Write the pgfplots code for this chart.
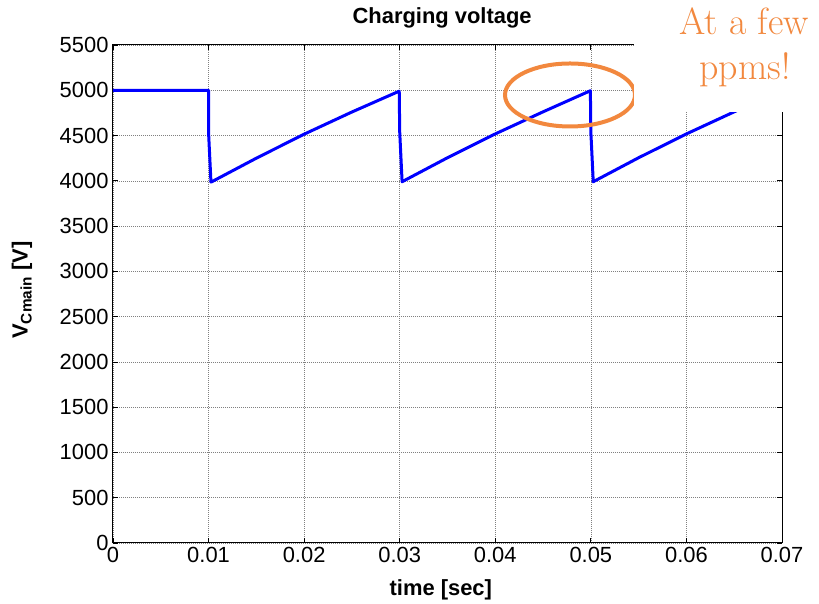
\documentclass[border=0pt]{standalone}
\usepackage{pgfplots}
\pgfplotsset{compat=1.18}
\usepackage{fontspec}
\newfontfamily\arial{Liberation Sans}
\definecolor{noteorange}{RGB}{242,136,62}
\definecolor{traceblue}{RGB}{0,0,255}

\begin{document}
\begin{tikzpicture}[x=1bp,y=1bp]
\begin{axis}[
  name=ax,
  width=669bp, height=498bp, scale only axis,
  xmin=0, xmax=0.07, ymin=0, ymax=5500,
  xtick={0,0.01,0.02,0.03,0.04,0.05,0.06,0.07},
  ytick={0,500,1000,1500,2000,2500,3000,3500,4000,4500,5000,5500},
  scaled x ticks=false,
  /pgf/number format/set thousands separator={},
  xticklabel style={/pgf/number format/fixed, /pgf/number format/precision=2, yshift=-1bp},
  yticklabel style={xshift=-1bp},
  /pgf/number format/assume math mode=true,
  tick label style={font=\arial\fontsize{22}{26}\selectfont},
  grid=major,
  major grid style={black!50, line width=0.6bp, dash pattern=on 0.8bp off 1.2bp},
  tick align=inside, xtick pos=both, ytick pos=both,
  major tick length=5bp,
  every tick/.style={black, line width=0.8bp},
  axis line style={black, line width=1bp},
  title={Charging voltage},
  title style={font=\arial\bfseries\fontsize{22}{26}\selectfont, at={(axis description cs:0.492,1)}, anchor=base, yshift=16bp},
  xlabel={time [sec]},
  xlabel style={font=\arial\bfseries\fontsize{22}{26}\selectfont, at={(axis description cs:0.49,-0.094)}, anchor=center},
  ylabel={V\textsubscript{Cmain} [V]},
  ylabel style={font=\arial\bfseries\fontsize{22}{26}\selectfont, at={(axis description cs:-0.136,0.508)}, anchor=center},
]
\addplot[traceblue, line width=3bp, line join=round] coordinates {
  (0,5000) (0.01,5000) (0.01,4530) (0.01025,3985)
  (0.015,4250) (0.02,4515) (0.025,4760) (0.02995,4990)
  (0.03,4540) (0.03025,3990)
  (0.035,4255) (0.04,4518) (0.045,4762) (0.04995,4995)
  (0.05,4540) (0.05025,3990)
  (0.055,4255) (0.06,4518) (0.065,4762) (0.07,5000)
};
\end{axis}
% highlight ring round the last peak
\draw[noteorange, line width=4bp] ([shift={(457bp,448bp)}]ax.south west) ellipse [x radius=65bp, y radius=31.5bp];
% note box on top of the corner of the plot
\fill[white] ([shift={(521bp,431bp)}]ax.south west) rectangle ([shift={(706bp,543bp)}]ax.south west);
\node[noteorange, anchor=base, font=\fontsize{38}{46}\selectfont, inner sep=0pt] at ([shift={(631bp,508bp)}]ax.south west) {At a few};
\node[noteorange, anchor=base, font=\fontsize{38}{46}\selectfont, inner sep=0pt] at ([shift={(632bp,463bp)}]ax.south west) {ppms!};
\path[use as bounding box] ([shift={(-113bp,-58bp)}]ax.south west) rectangle ([shift={(37bp,45bp)}]ax.north east);
\end{tikzpicture}
\end{document}
